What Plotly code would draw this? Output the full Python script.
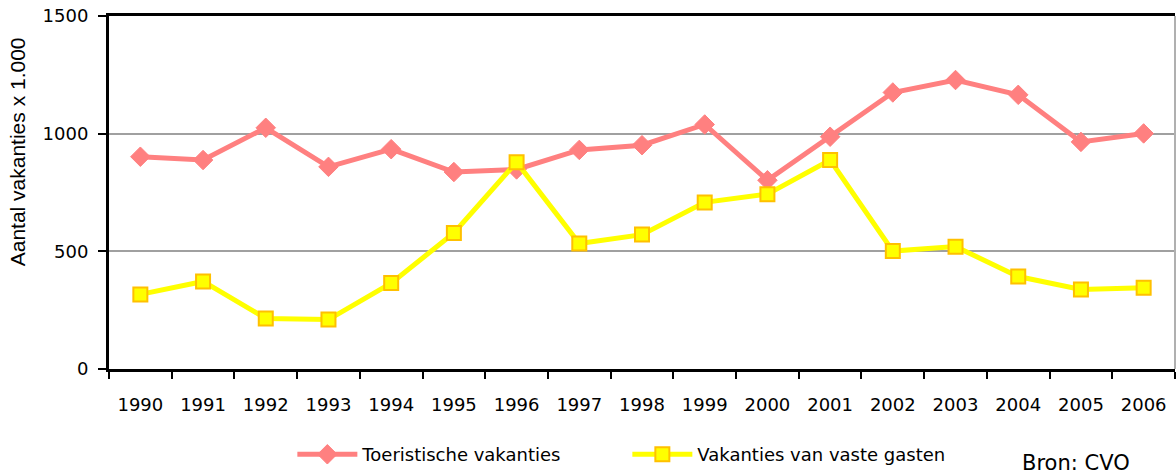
import plotly.graph_objects as go

years = ["1990", "1991", "1992", "1993", "1994", "1995", "1996", "1997", "1998",
         "1999", "2000", "2001", "2002", "2003", "2004", "2005", "2006"]
toeristisch = [902, 888, 1025, 859, 934, 837, 848, 931, 951, 1039, 802, 987,
               1175, 1228, 1165, 965, 1001]
vaste_gasten = [317, 372, 215, 210, 365, 578, 879, 533, 571, 708, 743, 888,
                501, 520, 393, 338, 345]

tick_font = dict(family="DejaVu Sans, Verdana, sans-serif", size=18, color="#000000")

fig = go.Figure()
fig.add_trace(go.Scatter(
    x=years, y=toeristisch, name="Toeristische vakanties", mode="lines+markers",
    line=dict(color="#FF8080", width=5),
    marker=dict(symbol="diamond", size=15, color="#FF8080",
                line=dict(color="#FF8080", width=1)),
))
fig.add_trace(go.Scatter(
    x=years, y=vaste_gasten, name="Vakanties van vaste gasten", mode="lines+markers",
    line=dict(color="#FFFF00", width=5),
    marker=dict(symbol="square", size=14, color="#FFFF00",
                line=dict(color="#FFC000", width=2)),
))

fig.update_layout(
    width=1176, height=474,
    margin=dict(l=109, r=1, t=16, b=100),
    paper_bgcolor="white", plot_bgcolor="white",
    showlegend=True,
    legend=dict(orientation="h", x=0.172, y=-0.19, xanchor="left", yanchor="top",
                font=tick_font, itemwidth=60, entrywidth=260, entrywidthmode="pixels",
                bgcolor="rgba(0,0,0,0)"),
    xaxis=dict(type="category", range=[-0.5, 16.5], showgrid=False, automargin=False,
               showline=True, linecolor="#000000", linewidth=3, mirror=True,
               ticks="outside", tickson="boundaries", ticklen=7, tickwidth=2,
               tickcolor="#000000", tickfont=tick_font, ticklabelstandoff=17,
               fixedrange=True),
    yaxis=dict(range=[0, 1500], tickvals=[0, 500, 1000, 1500], automargin=False,
               showgrid=True, gridcolor="#A0A0A0", gridwidth=2,
               showline=True, linecolor="#000000", linewidth=3,
               ticks="outside", ticklen=8, tickwidth=2, tickcolor="#000000",
               tickfont=tick_font, ticklabelstandoff=6, zeroline=False, fixedrange=True),
    annotations=[
        dict(text="Aantal vakanties x 1.000", textangle=-90, xref="paper", yref="paper",
             x=-0.085, y=0.615, xanchor="center", yanchor="middle", showarrow=False,
             font=dict(family="Liberation Sans, Arial, sans-serif", size=21, color="#000000")),
        dict(text="Bron: CVO", xref="paper", yref="paper", x=0.855, y=-0.226,
             xanchor="left", yanchor="top", showarrow=False,
             font=dict(family="DejaVu Sans, Verdana, sans-serif", size=21, color="#000000")),
    ],
    shapes=[
        dict(type="line", xref="paper", yref="paper", x0=1, x1=1, y0=0, y1=1,
             line=dict(color="#B0B0B0", width=2)),
    ],
)

fig.write_html("out.html", config={"displayModeBar": False},
               post_script="document.body.style.margin='0';")
